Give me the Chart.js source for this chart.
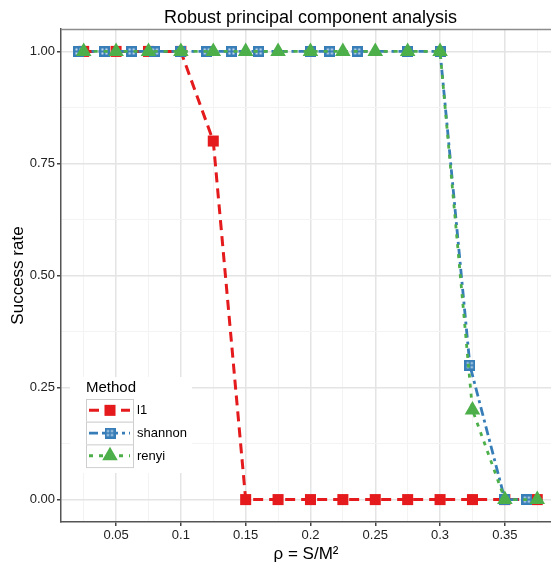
<!DOCTYPE html>
<html><head><meta charset="utf-8">
<script src="https://cdn.jsdelivr.net/npm/chart.js@4/dist/chart.umd.min.js"></script>
<style>html,body{margin:0;padding:0;background:#fff;}#wrap{width:551px;height:565px;}</style>
</head><body><div id="wrap"><canvas id="c" width="551" height="565"></canvas></div>
<script>
// ---- data ----
const rhoGrid = [0.025,0.05,0.075,0.1,0.125,0.15,0.175,0.2,0.225,0.25,0.275,0.3,0.325,0.35,0.375];
const l1Rate = [1,1,1,1,0.8,0,0,0,0,0,0,0,0,0,0];
const renyiRate = [1,1,1,1,1,1,1,1,1,1,1,1,0.2,0,0];
const shannonRho = [0.021,0.041,0.062,0.080,0.100,0.120,0.139,0.160,0.200,0.215,0.236,0.275,0.300,0.323,0.350,0.367];
const shannonRate = [1,1,1,1,1,1,1,1,1,1,1,1,1,0.3,0,0];
const seriesNames = ['l1','shannon','renyi'];
const xMajor = [0.05,0.1,0.15,0.2,0.25,0.3,0.35];
const xMajorLabels = ['0.05','0.1','0.15','0.2','0.25','0.3','0.35'];
const xMinor = [0.025,0.075,0.125,0.175,0.225,0.275,0.325,0.375];
const yMajor = [0,0.25,0.5,0.75,1];
const yMajorLabels = ['0.00','0.25','0.50','0.75','1.00'];
const yMinor = [0.125,0.375,0.625,0.875];
const titleText = 'Robust principal component analysis';
const xTitle = 'ρ = S/M²';
const yTitle = 'Success rate';
const legendTitle = 'Method';

const FONT = '"Liberation Sans", Arial, Helvetica, sans-serif';
const RED = '#E41A1C', BLUE = '#377EB8', GREEN = '#4DAF4A';

function squarePlus(size, color){
  const c = document.createElement('canvas'); c.width = c.height = size;
  const g = c.getContext('2d');
  g.fillStyle = color; g.fillRect(0,0,size,size);
  g.fillStyle = 'rgba(255,255,255,0.75)';
  const h = 2, a = 2.5, b = size/2 + 1;
  g.fillRect(a, a, h, h); g.fillRect(b, a, h, h); g.fillRect(a, b, h, h); g.fillRect(b, b, h, h);
  return c;
}
const bluePt = squarePlus(11, BLUE);

function ticksFrom(major, minor){
  return major.concat(minor).sort((a,b)=>a-b).map(v=>({value:v}));
}
const isMajor = (arr, v) => arr.some(m => Math.abs(m - v) < 1e-9);
function labelOf(arr, labels, v){ const i = arr.findIndex(m => Math.abs(m - v) < 1e-9); return i >= 0 ? labels[i] : ''; }

const datasets = [
  {label: seriesNames[0], data: rhoGrid.map((x,i)=>({x, y:l1Rate[i]})), borderColor: RED, backgroundColor: RED,
   borderWidth: 3, borderDash: [10,6], pointStyle: 'rect', pointRadius: 7.8, pointBorderWidth: 0, order: 3},
  {label: seriesNames[1], data: shannonRho.map((x,i)=>({x, y:shannonRate[i]})), borderColor: BLUE, backgroundColor: BLUE,
   borderWidth: 2.8, borderDash: [9,4,3,4], pointStyle: bluePt, pointRadius: 6, pointBorderWidth: 0, order: 2},
  {label: seriesNames[2], data: rhoGrid.map((x,i)=>({x, y:renyiRate[i]})), borderColor: GREEN, backgroundColor: GREEN,
   borderWidth: 2.8, borderDash: [4,6], pointStyle: 'triangle', pointRadius: 9, pointBorderWidth: 0, order: 1}
];

const decor = {
  id: 'decor',
  beforeDatasetsDraw(chart){
    const {ctx, chartArea:a} = chart;
    ctx.save();
    ctx.strokeStyle = '#8c8c8c'; ctx.lineWidth = 1.5;
    ctx.beginPath(); ctx.moveTo(a.left, a.top + 0.5); ctx.lineTo(a.right, a.top + 0.5); ctx.stroke();
    ctx.restore();
  },
  afterDraw(chart){
    const {ctx, chartArea:a} = chart;
    ctx.save();
    ctx.fillStyle = '#000'; ctx.font = '18px ' + FONT; ctx.textAlign = 'center'; ctx.textBaseline = 'alphabetic';
    ctx.fillText(titleText, (a.left + 560) / 2, 23);
    const lx = 70, ly = 377, lw = 122, lh = 96;
    ctx.fillStyle = '#fff'; ctx.fillRect(lx, ly, lw, lh);
    ctx.fillStyle = '#000'; ctx.font = '15px ' + FONT; ctx.textAlign = 'left'; ctx.textBaseline = 'middle';
    ctx.fillText(legendTitle, 86, 388);
    const kx = 86, kw = 47, kh = 22.7, ky = 399;
    chart.data.datasets.forEach((ds, i) => {
      const top = ky + i * kh, cy = top + kh / 2;
      ctx.fillStyle = '#fff'; ctx.fillRect(kx, top, kw, kh);
      ctx.strokeStyle = '#cfcfcf'; ctx.lineWidth = 1; ctx.setLineDash([]);
      ctx.strokeRect(kx + 0.5, top + 0.5, kw, kh);
      ctx.strokeStyle = ds.borderColor; ctx.lineWidth = ds.borderWidth; ctx.setLineDash(ds.borderDash);
      ctx.beginPath(); ctx.moveTo(kx + 3, cy); ctx.lineTo(kx + kw - 3, cy); ctx.stroke();
      ctx.setLineDash([]);
      ctx.fillStyle = ds.backgroundColor;
      Chart.helpers.drawPoint(ctx, {pointStyle: ds.pointStyle, rotation: 0, radius: ds.pointRadius, borderWidth: 0}, kx + kw / 2 + 0.5, cy);
      ctx.fillStyle = '#000'; ctx.font = '13px ' + FONT; ctx.textBaseline = 'middle';
      ctx.fillText(ds.label, 137, cy + 0.5);
    });
    ctx.restore();
  }
};

new Chart(document.getElementById('c'), {
  type: 'line',
  data: {datasets},
  options: {
    responsive: false, animation: false, devicePixelRatio: 1,
    layout: {autoPadding: false, padding: {top: 29, right: 0, bottom: 0, left: 0}},
    plugins: {legend: {display: false}, tooltip: {enabled: false}, title: {display: false}},
    elements: {line: {tension: 0, fill: false}},
    scales: {
      x: {
        type: 'linear', min: 0.0075, max: 0.3856,
        afterBuildTicks: s => { s.ticks = ticksFrom(xMajor, xMinor); },
        afterFit: s => { s.height = 43; s.paddingLeft = 0; s.paddingRight = 0; },
        ticks: {autoSkip: false, maxRotation: 0, padding: 2, color: '#222', font: {family: FONT, size: 13},
                callback: v => labelOf(xMajor, xMajorLabels, v)},
        grid: {color: c => isMajor(xMajor, c.tick.value) ? '#e4e4e4' : '#f3f3f3',
               lineWidth: c => isMajor(xMajor, c.tick.value) ? 1.5 : 1,
               tickColor: c => isMajor(xMajor, c.tick.value) ? '#444' : 'rgba(0,0,0,0)',
               tickLength: 4, tickWidth: 1.5},
        border: {display: true, color: '#555', width: 1.5},
        title: {display: true, text: xTitle, color: '#000', font: {family: FONT, size: 17}, padding: {top: 0, bottom: 0}}
      },
      y: {
        type: 'linear', min: -0.05, max: 1.05,
        afterBuildTicks: s => { s.ticks = ticksFrom(yMajor, yMinor); },
        afterFit: s => { s.width = 61; s.paddingTop = 0; s.paddingBottom = 0; },
        ticks: {autoSkip: false, padding: 2, color: '#222', font: {family: FONT, size: 13},
                callback: v => labelOf(yMajor, yMajorLabels, v)},
        grid: {color: c => isMajor(yMajor, c.tick.value) ? '#e4e4e4' : '#f3f3f3',
               lineWidth: c => isMajor(yMajor, c.tick.value) ? 1.5 : 1,
               tickColor: c => isMajor(yMajor, c.tick.value) ? '#444' : 'rgba(0,0,0,0)',
               tickLength: 4, tickWidth: 1.5},
        border: {display: true, color: '#555', width: 1.5},
        title: {display: true, text: yTitle, color: '#000', font: {family: FONT, size: 17}, padding: {top: 8, bottom: 0}}
      }
    }
  },
  plugins: [decor]
});
</script></body></html>
